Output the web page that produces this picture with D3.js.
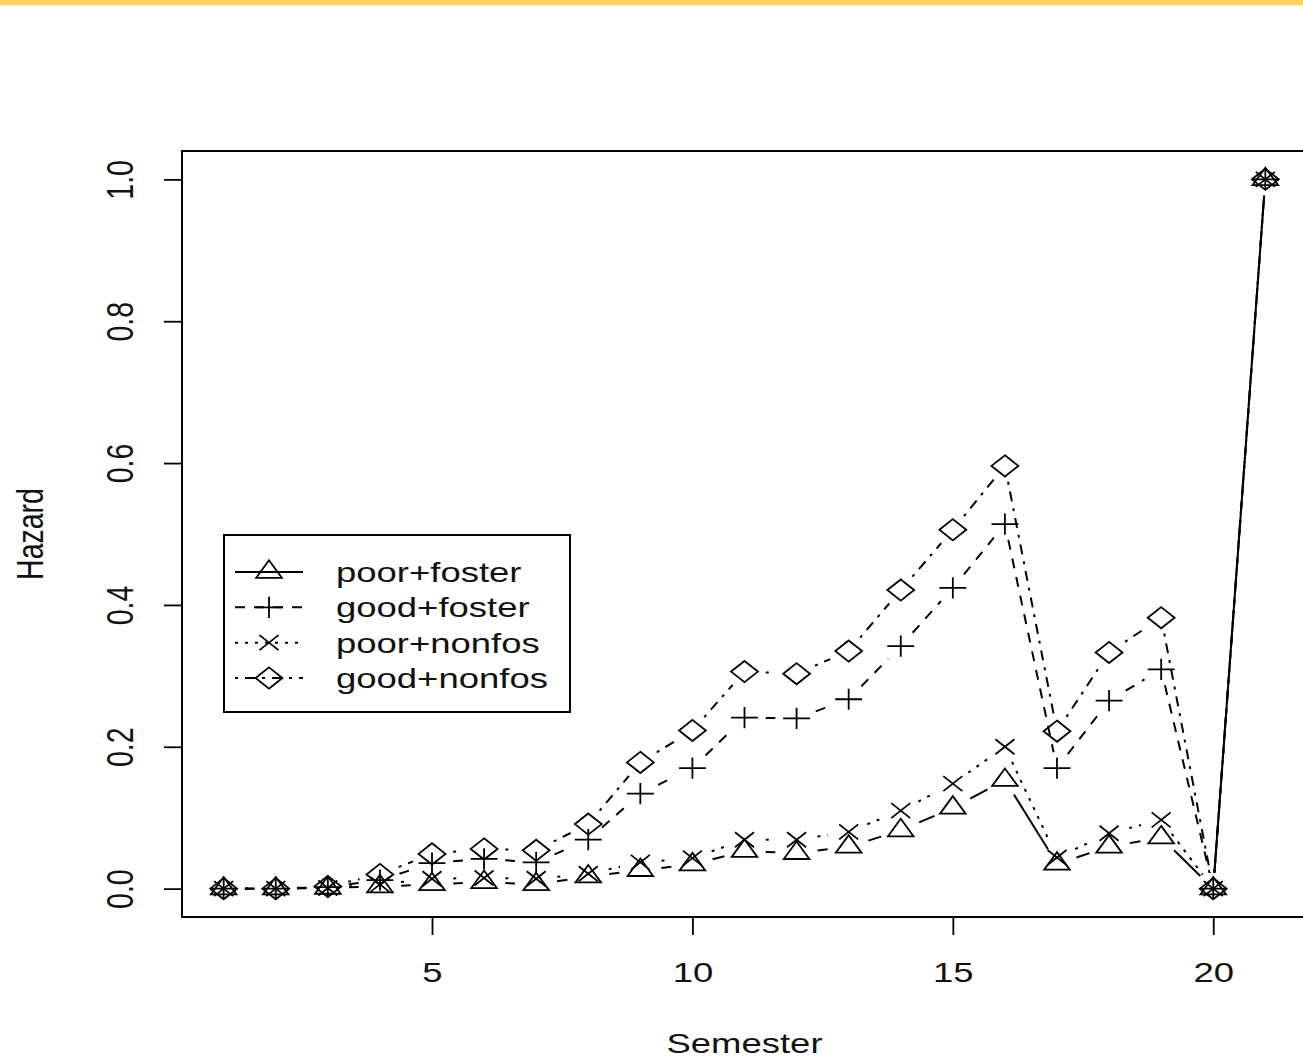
<!DOCTYPE html>
<html><head><meta charset="utf-8">
<script src="https://cdn.jsdelivr.net/npm/d3@7"></script>
<style>body{margin:0;background:#fff;} svg{display:block;font-family:"Liberation Sans",Arial,sans-serif;}</style>
</head><body><svg id="c" width="1303" height="1061"></svg>
<script>
// ---- data ----
const semesters = [1,2,3,4,5,6,7,8,9,10,11,12,13,14,15,16,17,18,19,20,21];
const seriesNames = ["poor+foster","good+foster","poor+nonfos","good+nonfos"];
const poorFoster = [0,0,0.001,0.003,0.006,0.009,0.006,0.017,0.026,0.034,0.053,0.050,0.059,0.082,0.114,0.153,0.035,0.059,0.072,0,1];
const goodFoster = [0,0,0.002,0.012,0.036,0.042,0.037,0.069,0.134,0.170,0.241,0.240,0.267,0.342,0.424,0.514,0.170,0.265,0.309,0,1];
const poorNonfos = [0,0,0.001,0.006,0.014,0.015,0.014,0.021,0.037,0.043,0.069,0.069,0.080,0.110,0.148,0.200,0.044,0.078,0.097,0,1];
const goodNonfos = [0,0,0.003,0.020,0.049,0.056,0.054,0.091,0.178,0.223,0.306,0.303,0.335,0.421,0.506,0.596,0.222,0.333,0.382,0,1];
const xTicks = [5,10,15,20];
const yTicks = [0,0.2,0.4,0.6,0.8,1.0];
const xTitle = "Semester";
const yTitle = "Hazard";

// ---- layout ----
const W = 1303, H = 1061;
const SX = 1.28;      // horizontal stretch of the reference picture
const FS = 28.5;      // font size (vertical units)
const GAP = 16;       // type="b" gap around points
const pLeft = 182, pTop = 151, pBottom = 917, pRight = 1307;

const svg = d3.select("#c");
svg.append("rect").attr("x",0).attr("y",0).attr("width",W).attr("height",5.5).attr("fill","#FFD166");

const x = d3.scaleLinear().domain([0.2, 21.8]).range([pLeft, pRight]);
const y = d3.scaleLinear().domain([-0.04, 1.04]).range([pBottom, pTop]);

// axes
const gx = svg.append("g").attr("transform",`translate(0,${pBottom})`)
  .call(d3.axisBottom(x).tickValues(xTicks).tickSize(18).tickSizeOuter(0).tickFormat(d3.format("d")));
gx.attr("font-size",FS).attr("font-family",null);
gx.select(".domain").remove();
gx.selectAll(".tick line").attr("stroke","#000").attr("stroke-width",1.8);
gx.selectAll(".tick text").attr("y",null).attr("dy",null).attr("fill","#111")
  .attr("dominant-baseline","central")
  .attr("transform",`translate(0,55) scale(${SX},1)`);

const gy = svg.append("g").attr("transform",`translate(${pLeft},0)`)
  .call(d3.axisLeft(y).tickValues(yTicks).tickSize(18).tickSizeOuter(0).tickFormat(d3.format(".1f")));
gy.attr("font-size",FS).attr("font-family",null);
gy.select(".domain").remove();
gy.selectAll(".tick line").attr("stroke","#000").attr("stroke-width",1.8);
gy.selectAll(".tick text").attr("x",null).attr("dy",null).attr("fill","#111")
  .attr("text-anchor","middle").attr("dominant-baseline","central")
  .attr("transform",`translate(-62,0) rotate(-90) scale(1,${SX})`);

// box
svg.append("rect").attr("x",pLeft).attr("y",pTop).attr("width",pRight-pLeft+10).attr("height",pBottom-pTop)
  .attr("fill","none").attr("stroke","#000").attr("stroke-width",2);

// titles
svg.append("text").text(xTitle).attr("font-size",FS).attr("fill","#111")
  .attr("text-anchor","middle").attr("dominant-baseline","central")
  .attr("transform",`translate(${(pLeft+pRight)/2},1043) scale(${SX},1)`);
svg.append("text").text(yTitle).attr("font-size",FS).attr("fill","#111")
  .attr("text-anchor","middle").attr("dominant-baseline","central")
  .attr("transform",`translate(30,${(pTop+pBottom)/2}) rotate(-90) scale(1,${SX})`);

// series
const rh = 9.5, rv = 7.5;
function shapePath(t){
  switch(t){
    case "tri": return `M0,${-1.555*rv}L${1.347*rh},${0.778*rv}L${-1.347*rh},${0.778*rv}Z`;
    case "plus": return `M${-1.414*rh},0H${1.414*rh}M0,${-1.414*rv}V${1.414*rv}`;
    case "x": return `M${-rh},${-rv}L${rh},${rv}M${-rh},${rv}L${rh},${-rv}`;
    case "diamond": return `M0,${-1.414*rv}L${1.414*rh},0L0,${1.414*rv}L${-1.414*rh},0Z`;
  }
}
const series = [
  {name:seriesNames[0], values:poorFoster, dash:null, shape:"tri"},
  {name:seriesNames[1], values:goodFoster, dash:"10,9", shape:"plus"},
  {name:seriesNames[2], values:poorNonfos, dash:"3,7", shape:"x"},
  {name:seriesNames[3], values:goodNonfos, dash:"3,7,10,7", shape:"diamond"}
];
function segs(vals){
  const pts = semesters.map((s,i)=>[x(s), y(vals[i])]);
  const out = [];
  for(let i=1;i<pts.length;i++){
    const [x0,y0]=pts[i-1],[x1,y1]=pts[i];
    const dx=x1-x0, dy=y1-y0;
    const d=Math.hypot(dx/1.33, dy);
    if(2*GAP<d){ const f=GAP/d; out.push([x0+f*dx,y0+f*dy,x1-f*dx,y1-f*dy]); }
  }
  return out;
}
series.forEach(s=>{
  const g = svg.append("g");
  g.selectAll("line").data(segs(s.values)).join("line")
    .attr("x1",d=>d[0]).attr("y1",d=>d[1]).attr("x2",d=>d[2]).attr("y2",d=>d[3])
    .attr("stroke","#000").attr("stroke-width",2).attr("stroke-dasharray",s.dash);
  g.selectAll("path").data(semesters.map((sm,i)=>[sm,s.values[i]])).join("path")
    .attr("d",shapePath(s.shape))
    .attr("transform",d=>`translate(${x(d[0])},${y(d[1])})`)
    .attr("fill","none").attr("stroke","#000").attr("stroke-width",1.8);
});

// legend
const lg = svg.append("g");
lg.append("rect").attr("x",224).attr("y",535).attr("width",346).attr("height",177)
  .attr("fill","#fff").attr("stroke","#000").attr("stroke-width",2);
const rowY = d3.scalePoint().domain(seriesNames).range([572,678]);
series.forEach(s=>{
  const yy = rowY(s.name);
  lg.append("line").attr("x1",235).attr("x2",303).attr("y1",yy).attr("y2",yy)
    .attr("stroke","#000").attr("stroke-width",2).attr("stroke-dasharray",s.dash);
  lg.append("path").attr("d",shapePath(s.shape)).attr("transform",`translate(269,${yy})`)
    .attr("fill","none").attr("stroke","#000").attr("stroke-width",1.8);
  lg.append("text").text(s.name).attr("font-size",FS).attr("fill","#111")
    .attr("dominant-baseline","central")
    .attr("transform",`translate(336,${yy}) scale(${SX},1)`);
});
</script></body></html>
